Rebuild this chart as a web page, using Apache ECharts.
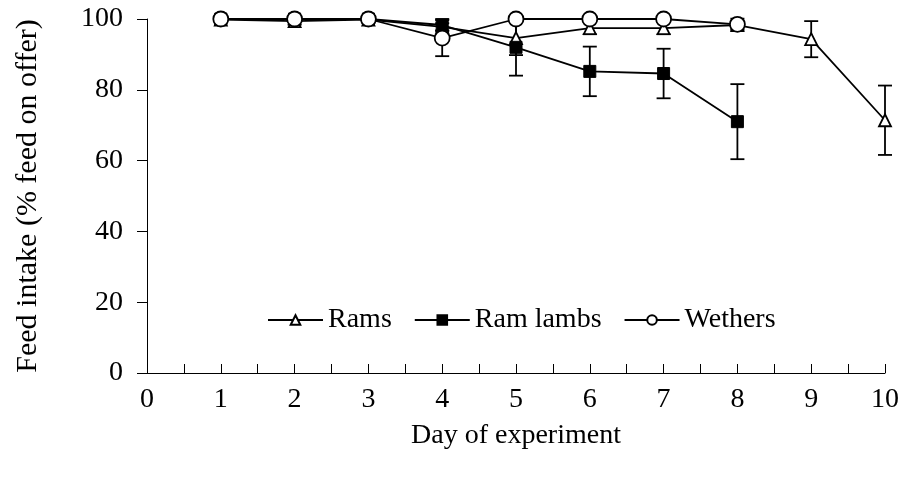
<!DOCTYPE html>
<html><head><meta charset="utf-8">
<script src="https://cdn.jsdelivr.net/npm/echarts@6/dist/echarts.min.js"></script>
<style>html,body{margin:0;padding:0;background:#fff}#c{width:902px;height:477px}</style>
</head><body><div id="c"></div>
<script>
const days = [1,2,3,4,5,6,7,8,9,10];
const ramsMean = [99.8,99.4,99.8,97.8,94.6,97.4,97.4,98.3,94.3,71.4];
const ramsErr  = [0.8,1.0,0.9,1.0,4.8,1.7,1.7,1.0,5.1,9.8];
const lambDays = [1,2,3,4,5,6,7,8];
const lambMean = [100,100,100,98.3,92.0,85.2,84.6,71.0];
const lambErr  = [0,0,0,1.7,8.0,7.0,7.0,10.6];
const wethDays = [1,2,3,4,5,6,7,8];
const wethMean = [100,100,100,94.6,100,100,100,98.5];
const wethErr  = [0,0,0,5.1,0,0,0,1.6];
const xTicks = [0,1,2,3,4,5,6,7,8,9,10];
const yTicks = [0,20,40,60,80,100];

const FONT = 'Liberation Serif';
const FS = 28;
function pairs(xs, ys){ return xs.map((x,i)=>[x, ys[i]]); }
function errData(xs, ys, es){ return xs.map((x,i)=>[x, ys[i]-es[i], ys[i]+es[i]]).filter((d,i)=>es[i]>0); }
function errSeries(data){
  return {
    type:'custom', data:data, z:1, silent:true,
    renderItem:function(params, api){
      const x = api.value(0);
      const lo = api.coord([x, api.value(1)]);
      const hi = api.coord([x, api.value(2)]);
      const w = 7;
      const st = {stroke:'#000', lineWidth:1.8};
      return {type:'group', children:[
        {type:'line', shape:{x1:lo[0],y1:lo[1],x2:hi[0],y2:hi[1]}, style:st},
        {type:'line', shape:{x1:lo[0]-w,y1:lo[1],x2:lo[0]+w,y2:lo[1]}, style:st},
        {type:'line', shape:{x1:hi[0]-w,y1:hi[1],x2:hi[0]+w,y2:hi[1]}, style:st}
      ]};
    }
  };
}
const chart = echarts.init(document.getElementById('c'));
chart.setOption({
  animation:false,
  backgroundColor:'#fff',
  grid:{left:147, right:17, top:19, bottom:104},
  legend:{
    left:262, top:301, itemWidth:55, itemHeight:12, itemGap:22,
    textStyle:{fontFamily:FONT, fontSize:FS, color:'#000'},
    data:['Rams','Ram lambs','Wethers']
  },
  xAxis:{
    type:'value', min:0, max:10, interval:1,
    name:'Day of experiment', nameLocation:'middle', nameGap:49,
    nameTextStyle:{fontFamily:FONT, fontSize:FS, color:'#000'},
    axisLine:{lineStyle:{color:'#000', width:1}},
    axisTick:{show:true, inside:true, length:9, lineStyle:{color:'#000'}},
    minorTick:{show:true, splitNumber:2, length:9, lineStyle:{color:'#000'}},
    axisLabel:{fontFamily:FONT, fontSize:FS, color:'#000', margin:13,
      customValues:xTicks},
    splitLine:{show:false}
  },
  yAxis:{
    type:'value', min:0, max:100, interval:20,
    name:'Feed intake (% feed on offer)', nameLocation:'middle', nameGap:104,
    nameTextStyle:{fontFamily:FONT, fontSize:30, color:'#000'},
    axisLine:{show:true, lineStyle:{color:'#000', width:1}},
    axisTick:{show:true, inside:false, length:10, lineStyle:{color:'#000'}},
    axisLabel:{fontFamily:FONT, fontSize:FS, color:'#000', margin:24,
      customValues:yTicks},
    splitLine:{show:false}
  },
  series:[
    errSeries(errData(days, ramsMean, ramsErr)),
    errSeries(errData(lambDays, lambMean, lambErr)),
    errSeries(errData(wethDays, wethMean, wethErr)),
    {name:'Rams', type:'line', data:pairs(days, ramsMean), z:3,
     symbol:'triangle', symbolSize:12,
     lineStyle:{color:'#000', width:1.8},
     itemStyle:{color:'#fff', borderColor:'#000', borderWidth:1.8}},
    {name:'Ram lambs', type:'line', data:pairs(lambDays, lambMean), z:4,
     symbol:'rect', symbolSize:12,
     lineStyle:{color:'#000', width:1.8},
     itemStyle:{color:'#000', borderColor:'#000', borderWidth:1}},
    {name:'Wethers', type:'line', data:pairs(wethDays, wethMean), z:5,
     symbol:'circle', symbolSize:15,
     lineStyle:{color:'#000', width:1.8},
     itemStyle:{color:'#fff', borderColor:'#000', borderWidth:1.8}}
  ]
});
</script></body></html>
